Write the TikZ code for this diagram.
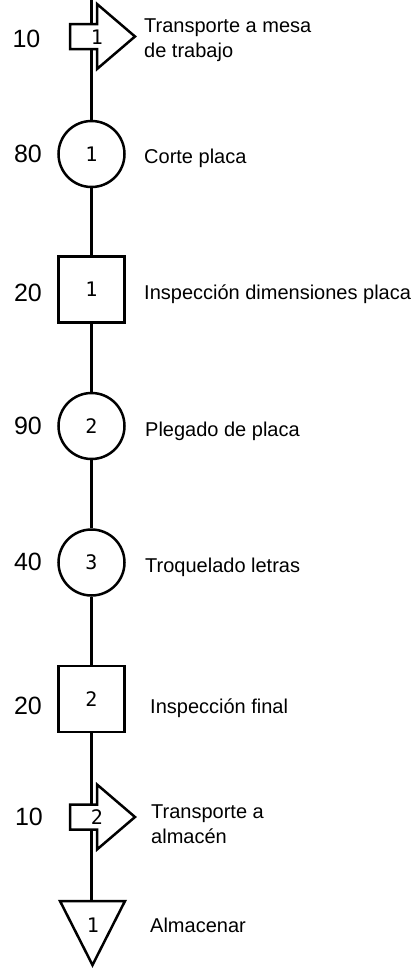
\documentclass[tikz,border=0pt]{standalone}
\usepackage{fontspec}
\setmainfont{Liberation Sans}
\newfontfamily\numfont{DejaVu Sans Mono}
\begin{document}
\begin{tikzpicture}[x=1pt,y=-1pt,
  flow/.style={line width=2.5pt, line join=miter},
  op/.style={circle, draw, line width=2.5pt, minimum size=66pt, inner sep=0pt, fill=white,
    font=\numfont\fontsize{20}{20}\selectfont},
  insp/.style={rectangle, draw, line width=2.5pt, minimum size=66pt, inner sep=0pt, fill=white,
    font=\numfont\fontsize{20}{20}\selectfont},
  shapefill/.style={draw, line width=2.5pt, line join=miter, fill=white},
  innum/.style={inner sep=0pt, font=\numfont\fontsize{20}{20}\selectfont},
  timenum/.style={inner sep=0pt, anchor=center, font=\fontsize{25}{25}\selectfont},
  lbl/.style={inner sep=0pt, anchor=base west, align=left, font=\fontsize{20}{25}\selectfont},
]
\useasboundingbox (0,0) rectangle (417,969);

% ---- shapes ----
% transport 1
\draw[shapefill] (70,24) -- (97,24) -- (97,4) -- (135,36.5) -- (97,69) -- (97,49) -- (70,49) -- cycle;
\coordinate (a1in) at (91.5,24);
\coordinate (a1out) at (91.5,49);
\node[innum] (a1n) at (97,37) {1};

\node[op] (c1) at (91.5,154) {1};
\node[insp] (s1) at (91.5,289.5) {1};
\node[op] (c2) at (91.5,426) {2};
\node[op] (c3) at (91.5,562.5) {3};
\node[insp] (s2) at (91.5,699) {2};

% transport 2
\draw[shapefill] (70,804.5) -- (97,804.5) -- (97,784.5) -- (135,817) -- (97,849.5) -- (97,829.5) -- (70,829.5) -- cycle;
\coordinate (a2in) at (91.5,804.5);
\coordinate (a2out) at (91.5,829.5);
\node[innum] (a2n) at (97,817.5) {2};

% storage
\draw[shapefill] (60,901) -- (125,901) -- (92.5,965) -- cycle;
\coordinate (tin) at (91.5,901);
\node[innum] (tn) at (93,925) {1};

% ---- connectors ----
\coordinate (top) at (91.5,0);
\draw[flow] (top) -- (a1in);
\draw[flow] (a1out) -- (c1.north);
\draw[flow] (c1.south) -- (s1.north);
\draw[flow] (s1.south) -- (c2.north);
\draw[flow] (c2.south) -- (c3.north);
\draw[flow] (c3.south) -- (s2.north);
\draw[flow] (s2.south) -- (a2in);
\draw[flow] (a2out) -- (tin);

% ---- times ----
\node[timenum] (t1) at (26.5,39) {10};
\node[timenum] (t2) at (28,153.5) {80};
\node[timenum] (t3) at (28,293) {20};
\node[timenum] (t4) at (28,426) {90};
\node[timenum] (t5) at (28,562) {40};
\node[timenum] (t6) at (28,706) {20};
\node[timenum] (t7) at (29,816.5) {10};

% ---- descriptions ----
\node[lbl] (l1) at (144,57) {Transporte a mesa\\de trabajo};
\node[lbl] (l2) at (144,163.5) {Corte placa};
\node[lbl] (l3) at (144,299.5) {Inspección dimensiones placa};
\node[lbl] (l4) at (145,436) {Plegado de placa};
\node[lbl] (l5) at (145,572) {Troquelado letras};
\node[lbl] (l6) at (150,713) {Inspección final};
\node[lbl] (l7) at (151,843) {Transporte a\\almacén};
\node[lbl] (l8) at (150,932) {Almacenar};
\end{tikzpicture}
\end{document}
